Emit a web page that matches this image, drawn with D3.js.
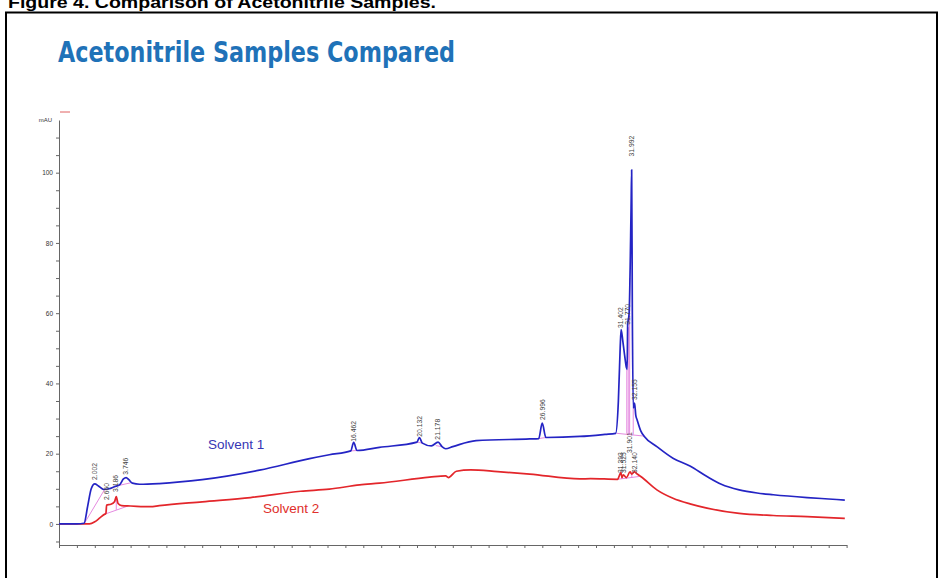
<!DOCTYPE html>
<html><head><meta charset="utf-8">
<script src="https://cdn.jsdelivr.net/npm/d3@7/dist/d3.min.js"></script>
<style>body{margin:0;background:#fff}svg{display:block}</style>
</head><body><svg id="c" width="940" height="578"></svg>
<script>
// ---- data (retention time in min, absorbance in mAU) ----
const solvent1Time  = [0,1.0,1.4,1.6,1.8,2.0,2.2,2.5,2.8,3.1,3.4,3.6,3.75,3.9,4.1,4.5,5.6,8.0,11.2,14.0,15.1,16.3,16.462,16.65,17.9,20.0,20.132,20.3,20.8,21.178,21.4,21.6,22.0,23.3,26.3,26.8,26.996,27.2,29.1,30.5,31.1,31.25,31.35,31.402,31.5,31.6,31.7,31.74,31.77,31.85,31.96,31.992,32.03,32.08,32.155,32.22,32.3,32.5,32.7,33.4,34.3,35.25,36.2,37.0,38.0,39.0,39.9,41.8,43.0,43.9];
const solvent1Value = [0,0,0.2,5,10,11.4,10.8,9.8,10.0,10.6,11.2,12.8,13.2,12.6,11.6,11.3,11.5,12.6,15.3,18.6,19.7,20.8,23.2,20.9,21.8,23.3,24.6,23.0,22.2,23.3,22.0,21.4,22.0,23.7,24.2,24.3,28.7,24.6,24.9,25.5,25.8,35,50,55.3,52,48,44.5,44,56.7,60,90,100.8,60,33,34.4,31,29.6,26.5,24.9,22.0,18.7,16.5,13.5,11.3,9.7,8.8,8.3,7.5,7.1,6.8];
const solvent2Time  = [0,1.7,2.0,2.3,2.5,2.62,2.66,2.9,3.1,3.2,3.3,3.5,4.0,5.1,5.6,8.0,10.7,13.5,15.1,16.8,17.9,20.7,21.6,21.75,22.2,23.0,24.5,26.3,29.1,29.7,31.2,31.393,31.45,31.525,31.7,31.901,32.0,32.14,32.3,32.5,33.4,34.3,35.25,36.2,38.0,39.9,41.8,43.9];
const solvent2Value = [0,0,0.6,1.8,2.6,3.0,5.4,5.6,6.3,7.8,5.8,5.2,5.1,4.9,5.2,6.3,7.5,9.3,9.9,11.1,11.6,13.3,13.7,13.2,15.0,15.4,14.9,14.2,12.8,12.9,12.7,14.6,13.2,14.0,13.2,14.8,14.2,14.8,14.2,13.5,9.7,7.3,5.7,4.5,3.0,2.4,2.1,1.6];

// integration baselines: [t1, v1, t2, v2]
const baselines = [
  [1.4,0,2.57,10],[3.2,10.8,4.0,11.7],[2.46,2.6,3.85,5.1],
  [16.3,20.8,16.65,20.9],[20.0,23.3,20.3,23.0],[21.05,22.3,21.4,22.0],[26.8,24.3,27.2,24.6],
  [31.15,25.8,32.7,25.0],[31.72,44,31.72,25.7],[31.80,56,31.80,25.6],[31.88,70,31.88,25.5],[32.08,33,32.08,25.4],
  [31.2,12.7,32.4,13.5],[31.45,13.2,31.45,12.8],[31.7,13.2,31.7,12.9],[32.0,14.2,32.0,13.1],
  [2.66,5.4,2.66,3.2],[3.2,7.8,3.2,4.0]
];

// peak labels (retention time, label base level in mAU)
const peakLabels = ["2.002","2.660","3.186","3.746","16.462","20.132","21.178","26.996","31.402","31.770","31.992","32.155","31.393","31.525","31.901","32.140"];
const peakTimes  = [2.002,2.660,3.186,3.746,16.462,20.132,21.178,26.996,31.402,31.770,31.992,32.155,31.393,31.525,31.901,32.140];
const peakLevels = [12.5,6.8,9.1,14.0,23.4,24.8,24.0,29.6,55.8,56.7,104.6,35.3,14.5,14.5,20.2,14.5];

const yTicks = d3.range(-5, 115, 5);
const xTicks = d3.range(0, 45, 1);
const seriesNames = ["Solvent 1","Solvent 2"];

// ---- drawing ----
const svg = d3.select("#c");
svg.append("rect").attr("x",0).attr("y",0).attr("width",940).attr("height",578).attr("fill","#fff");

// figure frame & caption
svg.append("text").attr("x",8).attr("y",8).attr("font-family","Liberation Sans, Arial, sans-serif")
  .attr("font-weight","bold").attr("font-size",16).attr("fill","#000")
  .attr("textLength",428).attr("lengthAdjust","spacingAndGlyphs")
  .text("Figure 4. Comparison of Acetonitrile Samples.");
svg.append("rect").attr("x",6).attr("y",12.5).attr("width",931).attr("height",600)
  .attr("fill","none").attr("stroke","#000").attr("stroke-width",2);

// title
svg.append("text").attr("x",58).attr("y",62).attr("font-family","Liberation Sans Narrow, DejaVu Sans Condensed, Arial Narrow, sans-serif")
  .attr("font-weight","bold").attr("font-size",29).attr("fill","#1f72b8")
  .attr("textLength",397).attr("lengthAdjust","spacingAndGlyphs")
  .text("Acetonitrile Samples Compared");

const x = d3.scaleLinear().domain([0,44]).range([59,846.6]);
const y = d3.scaleLinear().domain([-6,115]).range([545,120]);

// faint legend remnant
svg.append("line").attr("x1",60).attr("x2",70).attr("y1",112).attr("y2",112).attr("stroke","#e06060").attr("stroke-width",1);

const axisFont = "Liberation Sans, Arial, sans-serif";
const gy = svg.append("g").attr("transform","translate(59,0)")
  .call(d3.axisLeft(y).tickValues(yTicks).tickSize(3).tickSizeOuter(0).tickPadding(3)
    .tickFormat(d => d % 20 === 0 && d >= 0 ? d : ""));
gy.select(".domain").attr("stroke","#666");
gy.selectAll(".tick line").attr("stroke","#666");
gy.selectAll(".tick text").attr("font-family",axisFont).attr("font-size",6.5).attr("fill","#333");
svg.append("text").attr("x",52).attr("y",122).attr("text-anchor","end").attr("font-family",axisFont)
  .attr("font-size",6).attr("fill","#333").text("mAU");

const gx = svg.append("g").attr("transform","translate(0,545)")
  .call(d3.axisBottom(x).tickValues(xTicks).tickSize(3).tickSizeOuter(0).tickFormat(""));
gx.select(".domain").attr("stroke","#666");
gx.selectAll(".tick line").attr("stroke","#666");

// baselines
svg.append("g").selectAll("line").data(baselines).join("line")
  .attr("x1",d=>x(d[0])).attr("y1",d=>y(d[1])).attr("x2",d=>x(d[2])).attr("y2",d=>y(d[3]))
  .attr("stroke","#e58ae0").attr("stroke-width",1);

const line = d3.line().curve(d3.curveMonotoneX).x(d=>x(d[0])).y(d=>y(d[1]));
const s2 = d3.zip(solvent2Time, solvent2Value);
const s1 = d3.zip(solvent1Time, solvent1Value);
svg.append("path").datum(s2).attr("d",line).attr("fill","none").attr("stroke","#e3262b").attr("stroke-width",1.7).attr("stroke-linejoin","round");
svg.append("path").datum(s1).attr("d",line).attr("fill","none").attr("stroke","#2424c4").attr("stroke-width",1.7).attr("stroke-linejoin","round");

// peak labels
svg.append("g").selectAll("text").data(d3.range(peakLabels.length)).join("text")
  .attr("transform",i=>`translate(${x(peakTimes[i])+2.3},${y(peakLevels[i])}) rotate(-90)`)
  .attr("font-family",axisFont).attr("font-size",6.8).attr("fill","#444")
  .text(i=>peakLabels[i]);

// series labels
svg.append("text").attr("x",208).attr("y",449).attr("font-family",axisFont).attr("font-size",13.5)
  .attr("fill","#3636b4").text(seriesNames[0]);
svg.append("text").attr("x",263).attr("y",513).attr("font-family",axisFont).attr("font-size",13.5)
  .attr("fill","#e0302c").text(seriesNames[1]);
</script>
</body></html>
